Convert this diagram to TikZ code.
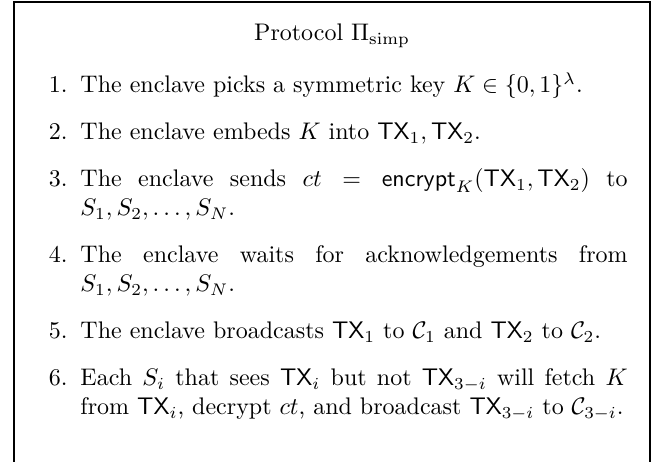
\documentclass[tikz,border=0pt]{standalone}
\usepackage{amsmath,amssymb}
\newcommand{\TXs}{\mathsf{TX}}
\begin{document}
\begin{tikzpicture}[x=0.416667pt,y=-0.416667pt,
  frame/.style={line width=0.45pt},
  itemtext/.style={anchor=base west, inner sep=0pt, text width=228pt, align=justify},
  itemlabel/.style={anchor=base east, inner sep=0pt},
]
\useasboundingbox (0,0) rectangle (664,462);
% box open at the bottom
\draw[frame] (14,480) -- (14,2) -- (650,2) -- (650,480);
\node[anchor=base, inner sep=0pt] (title) at (332,41) {Protocol $\Pi_{\mathrm{simp}}$};

\node[itemtext] (t1) at (80,93) {The enclave picks a symmetric key $K \in \{0,1\}^\lambda$.};
\node[itemtext] (t2) at (80,140) {The enclave embeds $K$ into $\TXs_1,\TXs_2$.};
\node[itemtext] (t3) at (80,187) {The enclave sends $ct = \mathsf{encrypt}_K(\TXs_1,\TXs_2)$ to $S_1, S_2, \ldots, S_N$.};
\node[itemtext] (t4) at (80,263) {The enclave waits for acknowledgements from $S_1, S_2, \ldots, S_N$.};
\node[itemtext] (t5) at (80,339) {The enclave broadcasts $\TXs_1$ to $\mathcal{C}_1$ and $\TXs_2$ to $\mathcal{C}_2$.};
\node[itemtext] (t6) at (80,386) {Each $S_i$ that sees $\TXs_i$ but not $\TXs_{3-i}$ will fetch $K$ from $\TXs_i$, decrypt $ct$, and broadcast $\TXs_{3-i}$ to $\mathcal{C}_{3-i}$.};

\foreach \k in {1,...,6}
  \node[itemlabel] (l\k) at ([xshift=-5pt]t\k.base west) {\k.};
\end{tikzpicture}
\end{document}
